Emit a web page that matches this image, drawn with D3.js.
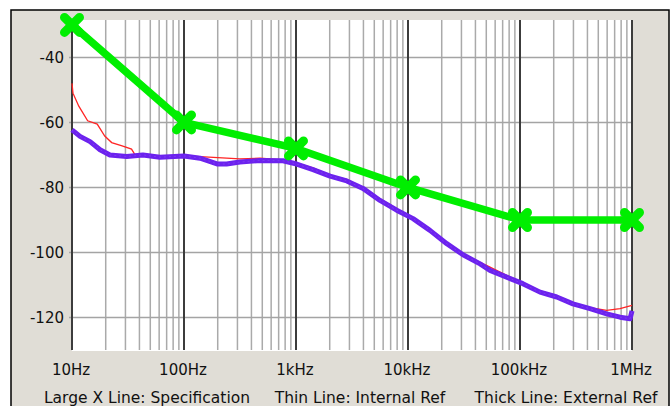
<!DOCTYPE html>
<html><head><meta charset="utf-8">
<script src="https://cdn.jsdelivr.net/npm/d3@7"></script>
<style>body{margin:0;background:#fff}svg{display:block}</style>
</head><body><svg id="c" width="672" height="406"></svg>
<script>
// ---- data ----
const specFreq = [10, 100, 1000, 10000, 100000, 1000000];
const specDb   = [-30, -60, -68, -80, -90, -90];

const intFreq = [10, 10.2, 11.5, 13.8, 16.8, 19.6, 22.6, 28, 34, 37, 43, 61, 100, 139, 240, 316, 477, 766, 1014, 1419, 2014, 2840, 3966, 5623, 7925, 11100, 15700, 22200, 31000, 44000, 54000, 76000, 106000, 151000, 213000, 297000, 422000, 594000, 782000, 1000000];
const intDb   = [-48, -51, -55, -59.5, -60.5, -64.2, -66.2, -67.2, -68.2, -70.3, -70, -70.5, -70.3, -70.5, -71, -71.2, -71, -71.5, -72.5, -74, -76.3, -77.5, -80, -83.5, -86.5, -89.5, -93, -97, -100.5, -103, -104.5, -107, -109.3, -111.8, -113.3, -115.5, -117, -117.8, -117.3, -116.3];

const extFreq = [10, 11.8, 14.5, 17.8, 21.8, 30.8, 43, 61, 100, 139, 200, 240, 316, 477, 766, 1014, 1419, 2014, 2840, 3966, 5623, 7925, 11100, 15700, 22200, 31000, 44000, 54000, 76000, 106000, 151000, 213000, 297000, 422000, 594000, 782000, 960000, 1000000];
const extDb   = [-62.3, -64.3, -65.9, -68.4, -70, -70.5, -70, -70.7, -70.3, -71, -72.8, -72.8, -72.2, -71.7, -71.8, -72.8, -74.5, -76.5, -78, -80.3, -84, -87, -89.6, -93.2, -97.3, -100.7, -103.5, -105.5, -107.6, -109.6, -112.2, -113.7, -115.8, -117.3, -118.9, -119.9, -120.4, -118];

const yTicks = [-40, -60, -80, -100, -120];
const xTicks = [10, 100, 1000, 10000, 100000, 1000000];
const xTickLabels = ["10Hz", "100Hz", "1kHz", "10kHz", "100kHz", "1MHz"];
const legendItems = ["Large X Line: Specification", "Thin Line: Internal Ref", "Thick Line: External Ref"];

// ---- drawing ----
const svg = d3.select("#c");
const L = 72, R = 632, T = 20, B = 350;
const x = d3.scaleLog().domain([10, 1e6]).range([L, R]);
const y = d3.scaleLinear().domain([-130, -28.5]).range([B, T]);

// outer panel
svg.append("rect").attr("x", 11).attr("y", 10).attr("width", 658).attr("height", 430)
  .attr("fill", "#e0ddd6").attr("stroke", "#000").attr("stroke-width", 1.5);
svg.append("rect").attr("x", L).attr("y", T).attr("width", R - L).attr("height", B - T + 1).attr("fill", "#fff");

// minor vertical grid
const minor = [];
for (let d = 10; d < 1e6; d *= 10) for (let m = 2; m <= 9; m++) minor.push(d * m);
svg.append("g").selectAll("line").data(minor).join("line")
  .attr("x1", d => x(d)).attr("x2", d => x(d)).attr("y1", T).attr("y2", B)
  .attr("stroke", "#aaaaaa").attr("stroke-width", 1.5);

// horizontal grid
svg.append("g").selectAll("line").data(yTicks).join("line")
  .attr("x1", L - 3).attr("x2", R).attr("y1", d => y(d)).attr("y2", d => y(d))
  .attr("stroke", "#a4a4a4").attr("stroke-width", 1.5);

// decade lines
svg.append("g").selectAll("line").data(xTicks).join("line")
  .attr("x1", d => x(d)).attr("x2", d => x(d)).attr("y1", T).attr("y2", B)
  .attr("stroke", "#3c3c3c").attr("stroke-width", 2);

// labels
svg.append("g").selectAll("text").data(yTicks).join("text")
  .attr("x", 64).attr("y", d => y(d) + 6).attr("text-anchor", "end")
  .attr("font-family", "DejaVu Sans").attr("font-size", 15).attr("fill", "#111")
  .text(d => d);
svg.append("g").selectAll("text").data(xTicks).join("text")
  .attr("x", d => x(d) - 1).attr("y", 375).attr("text-anchor", "middle")
  .attr("font-family", "DejaVu Sans").attr("font-size", 15).attr("fill", "#111")
  .text((d, i) => xTickLabels[i]);
const legX = [147, 360, 566];
svg.append("g").selectAll("text").data(legendItems).join("text")
  .attr("x", (d, i) => legX[i]).attr("y", 403).attr("text-anchor", "middle")
  .attr("font-family", "DejaVu Sans").attr("font-size", 15.5).attr("fill", "#111")
  .text(d => d);

// series
const line = d3.line().x(d => x(d[0])).y(d => y(d[1]));
const ext = extFreq.map((f, i) => [f, extDb[i]]);
const int = intFreq.map((f, i) => [f, intDb[i]]);
const spec = specFreq.map((f, i) => [f, specDb[i]]);

svg.append("path").datum(int).attr("d", line).attr("fill", "none")
  .attr("stroke", "#ff2424").attr("stroke-width", 1.3);
svg.append("path").datum(ext).attr("d", line).attr("fill", "none")
  .attr("stroke", "#6c22ee").attr("stroke-width", 5).attr("stroke-linejoin", "round");
svg.append("path").datum(ext).attr("d", line).attr("fill", "none")
  .attr("stroke", "#8a4cf5").attr("stroke-width", 1).attr("stroke-dasharray", "2 3").attr("opacity", 0.6);

svg.append("path").datum(spec).attr("d", line).attr("fill", "none")
  .attr("stroke", "#00ee00").attr("stroke-width", 7.5).attr("stroke-linejoin", "round");
const k = 7.5;
const mk = svg.append("g").selectAll("g").data(spec).join("g")
  .attr("transform", d => `translate(${x(d[0])},${y(d[1])})`);
mk.append("path").attr("d", `M${-k},${-k}L${k},${k}M${-k},${k}L${k},${-k}`)
  .attr("stroke", "#00ee00").attr("stroke-width", 9).attr("stroke-linecap", "round");
mk.append("circle").attr("r", 6).attr("fill", "#00ee00");
</script></body></html>
